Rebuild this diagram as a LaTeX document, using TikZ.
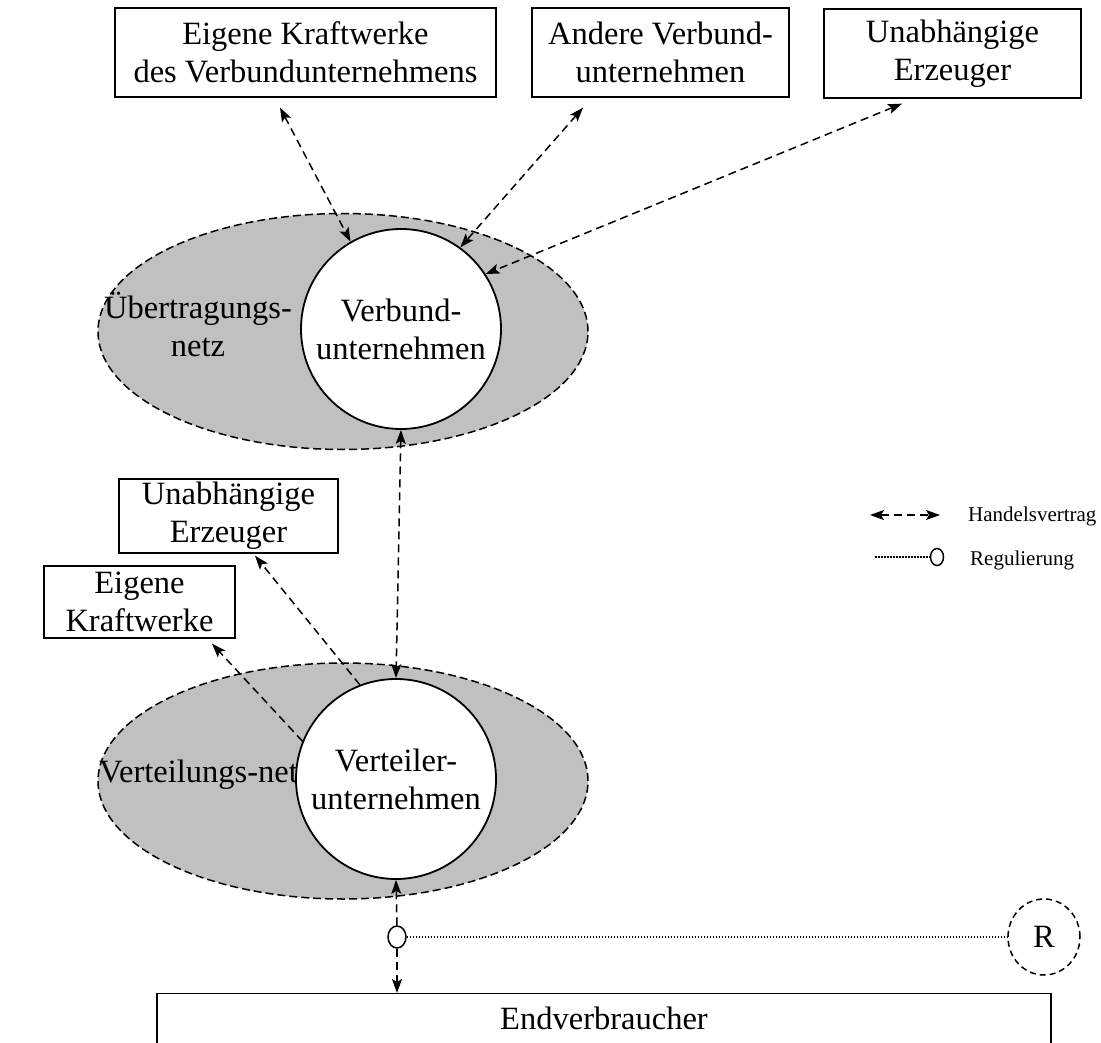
\documentclass[tikz,border=0pt]{standalone}
\usepackage{fontspec}
\setmainfont{Liberation Serif}
\usetikzlibrary{shapes.geometric,arrows.meta,calc}
\definecolor{netzgrau}{RGB}{192,192,192}
\begin{document}
\begin{tikzpicture}[x=1pt,y=-1pt,
  >={Stealth[length=14pt,width=10pt,inset=3pt]},
  txt/.style={font=\fontsize{32.5}{38}\selectfont},
  legtxt/.style={font=\fontsize{21}{25}\selectfont, inner sep=0pt},
  box/.style={draw, line width=1.3pt, txt, align=center, inner sep=0pt},
  netz/.style={ellipse, draw, line width=1.5pt, dash pattern=on 8pt off 4pt,
               fill=netzgrau, minimum width=490, minimum height=236, inner sep=0pt},
  firm/.style={circle, draw, line width=1.8pt, fill=white, minimum size=200,
               inner sep=0pt, txt, align=center},
  ring/.style={ellipse, draw, line width=1.5pt, fill=white, inner sep=0pt},
  hv/.style={line width=1.5pt, dash pattern=on 8pt off 5pt},
  reg/.style={line width=2.6pt, dash pattern=on 1.6pt off 1.4pt},
]
\useasboundingbox (0,0) rectangle (1101,1043);
\clip (0,0) rectangle (1101,1043);

% grid areas
\node[netz] (un) at (343,331.5) {};
\node[netz] (ln) at (343,781) {};
\node[txt, align=center, inner sep=0pt] (unl) at (198,324) {Übertragungs-\\netz};
\node[txt, anchor=base west, inner sep=0pt] (lnl) at (99,782) {Verteilungs-netz};

% utilities
\node[firm] (vu) at (401,329) {Verbund-\\unternehmen};
\node[firm] (vl) at (396,779) {Verteiler-\\unternehmen};

% generators and consumers
\node[box, minimum width=381, minimum height=89] (b1) at (305.5,52.5)
  {Eigene Kraftwerke\\des Verbundunternehmens};
\node[box, minimum width=257, minimum height=89] (b2) at (660.5,52.5)
  {Andere Verbund-\\unternehmen};
\node[box, minimum width=257, minimum height=89] (b3) at (952.5,53.5)
  {Unabhängige\\Erzeuger};
\node[box, minimum width=219, minimum height=74] (b4) at (228.5,516)
  {Unabhängige\\Erzeuger};
\node[box, minimum width=191, minimum height=72] (b5) at (139.5,602)
  {Eigene\\Kraftwerke};
\node[box, anchor=north, minimum width=894, text height=21, text depth=30,
      inner ysep=15] (ev) at (604,993) {Endverbraucher};

% trade contracts
\draw[hv,<->] ($(b1.south)+(-25.5,10)$) -- (vu.120);
\draw[hv,<->] ($(b2.south)+(-77.5,10)$) -- (vu.54);
\draw[hv,<->] ($(b3.south)+(-50.5,5)$) -- (vu.33);
\draw[hv,<->] (vu.south) -- (vl.north);
\draw[hv,->] (vl.111) -- ($(b4.south)+(26.5,2)$);
\draw[hv,->] (vl.158) -- ($(b5.south)+(72.5,5)$);

% regulated supply to end consumers
\node[ring, minimum width=18, minimum height=22] (sc) at (397,937) {};
\draw[hv,->] (sc.north) -- (vl.south);
\draw[hv,->] (sc.south) -- (sc.south |- ev.north);
\node[ellipse, draw, line width=1.5pt, dash pattern=on 6pt off 4pt,
      minimum width=72, minimum height=76, inner sep=0pt, txt] (R) at (1044,937) {R};
\draw[reg] (sc.east) -- (R.west);

% legend
\coordinate (lh1) at (870,515);
\coordinate (lh2) at (940,515);
\draw[hv,<->] (lh1) -- (lh2);
\node[legtxt, anchor=base west] (ht) at (968,521) {Handelsvertrag};
\coordinate (lr1) at (875,557);
\node[ring, minimum width=13, minimum height=17] (lr) at (937,557) {};
\draw[reg] (lr1) -- (lr.west);
\node[legtxt, anchor=base west] (rt) at (970,565) {Regulierung};
\end{tikzpicture}
\end{document}
